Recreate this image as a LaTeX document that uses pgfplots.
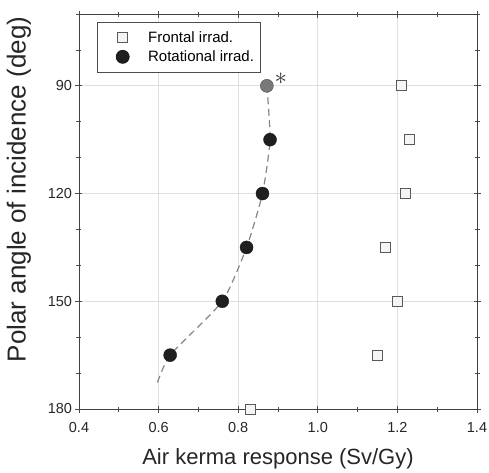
\documentclass[border=0pt]{standalone}
\usepackage{pgfplots}
\pgfplotsset{compat=1.18}
\usepackage{fontspec}
\setmainfont{Liberation Sans}
\begin{document}
\begin{tikzpicture}
\begin{axis}[
    scale only axis,
    width=398bp, height=395bp,
    xmin=0.4, xmax=1.4,
    ymin=70, ymax=180,
    y dir=reverse,
    xtick={0.4,0.6,0.8,1.0,1.2,1.4},
    xticklabels={0.4,0.6,0.8,1.0,1.2,1.4},
    minor xtick={0.5,0.7,0.9,1.1,1.3},
    ytick={90,120,150,180},
    minor ytick={70,80,100,110,130,140,160,170},
    tick align=center,
    major tick length=7bp,
    minor tick length=5bp,
    every tick/.style={black!70, line width=0.8bp},
    axis line style={black!75, line width=0.9bp},
    grid=major,
    major grid style={gray!25, line width=0.9bp},
    tick label style={font=\fontsize{14.5bp}{17bp}\selectfont, text=black!85},
    xticklabel style={yshift=-6bp},
    /pgf/number format/assume math mode=true,
    xlabel={Air kerma response (Sv/Gy)},
    ylabel={Polar angle of incidence (deg)},
    xlabel style={font=\fontsize{22bp}{26bp}\selectfont, text=black!85,
        at={([yshift=-50bp]rel axis cs:0.5,0)}, anchor=center},
    ylabel style={font=\fontsize{26bp}{30bp}\selectfont, text=black!85,
        at={([xshift=-60bp, yshift=22bp]rel axis cs:0,0.5)}, anchor=center},
    legend cell align=left,
    legend image code/.code={%
        \path (0bp,0bp) (44bp,0bp);
        \draw[#1] plot coordinates {(21bp,0bp)};
    },
    legend style={at={(0.045,0.98)}, anchor=north west,
        draw=black!70, line width=0.8bp,
        font=\fontsize{15bp}{18bp}\selectfont,
        inner xsep=4bp, inner ysep=7bp, row sep=3bp},
    clip=false,
]
% dashed guide curve
\addplot[forget plot, smooth, tension=0.35, gray!95, line width=1.2bp,
    dash pattern=on 7bp off 4.5bp] coordinates {
    (0.872,90) (0.880,105) (0.861,120) (0.821,135) (0.760,150) (0.629,165) (0.595,173.3)
};
\addplot[only marks, mark=square*, mark size=5bp,
    mark options={fill=gray!8, draw=black!65, line width=0.9bp}] coordinates {
    (1.210,90) (1.230,105) (1.221,120) (1.171,135) (1.201,150) (1.150,165) (0.830,180)
};
\addplot[only marks, mark=*, mark size=6.5bp,
    mark options={fill=black!88, draw=black!90}] coordinates {
    (0.880,105) (0.861,120) (0.821,135) (0.760,150) (0.629,165)
};
\addplot[forget plot, only marks, mark=*, mark size=6.5bp,
    mark options={fill=gray!95!black, draw=black!70}] coordinates {
    (0.872,90)
};
\legend{Frontal irrad., Rotational irrad.}
\node[text=black!80] at (axis cs:0.872,90) [xshift=14bp, yshift=7bp]
    {\fontsize{24bp}{24bp}\selectfont$\ast$};
\coordinate (bbtl) at ([xshift=-79bp, yshift=14bp]rel axis cs:0,1);
\coordinate (bbbr) at ([xshift=12bp, yshift=-64bp]rel axis cs:1,0);
\end{axis}
\pgfresetboundingbox
\path (bbtl) rectangle (bbbr);
\end{tikzpicture}
\end{document}
